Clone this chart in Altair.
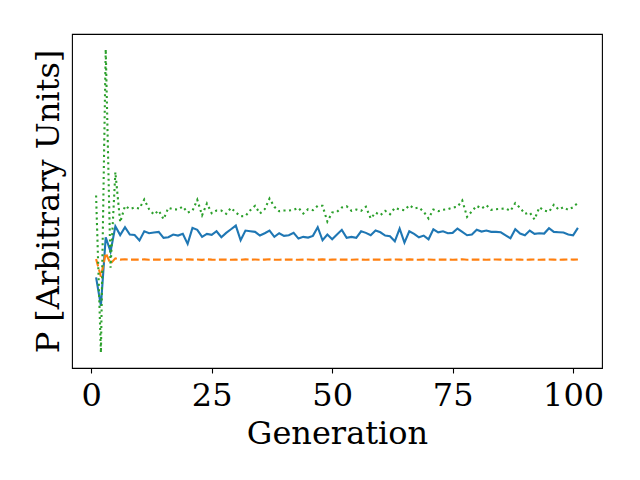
import altair as alt
import pandas as pd

generations = list(range(1, 102))

blue = [91.3, 63, 131.3, 117, 142.3, 133.5, 141.3, 134, 133.5, 128.2,
        137.3, 135.3, 136, 136.7, 130.7, 131.3, 134, 133, 134.7, 124.7,
        140.7, 138.7, 131.7, 134.7, 133.7, 137.3, 131.3, 135.7, 139.3, 143,
        128.3, 138, 137.3, 136.7, 133, 135.3, 138, 131.7, 135.3, 132.7,
        133.3, 135.7, 130, 131.7, 131, 132.7, 141.3, 128.3, 134, 129.3,
        134, 138.7, 130.7, 131.7, 130.7, 137.3, 135.7, 133.3, 138, 136.3,
        133, 132.3, 127.3, 140, 126, 137.3, 134.7, 131.3, 133, 129.3,
        139.3, 136.3, 137.3, 135.3, 135.7, 140, 136.7, 133.3, 134, 138.8,
        137, 138, 136.7, 136.7, 136.3, 133.3, 130.3, 139.3, 135, 133.3,
        138, 134.7, 135.3, 135, 140.3, 136.7, 136.3, 136, 134, 133.3,
        140.7]

orange = [109.7, 92, 115.5, 105, 110.3, 109.0, 109.3, 109.0, 109.1, 109.0,
          109.2, 108.9, 109.0, 109.1, 108.8, 109.0, 109.1, 109.0, 108.9, 109.2,
          109.0, 109.1, 108.8, 109.3, 109.0, 108.9, 109.1, 109.0, 108.9, 109.0,
          108.8, 109.2, 109.0, 109.1, 108.9, 109.0, 109.3, 109.0, 108.9, 109.0,
          109.1, 109.0, 108.8, 109.0, 109.1, 108.9, 109.0, 109.2, 108.8, 109.0,
          109.1, 109.0, 109.0, 108.9, 109.1, 109.0, 108.8, 109.0, 109.1, 109.0,
          108.9, 109.0, 109.1, 109.0, 108.9, 109.2, 109.0, 108.9, 109.0, 109.1,
          108.8, 109.0, 109.1, 109.0, 108.9, 109.0, 109.3, 108.9, 109.0, 109.1,
          109.0, 108.9, 109.0, 109.1, 109.0, 109.0, 108.9, 109.1, 109.0, 108.9,
          109.0, 109.1, 108.8, 109.0, 109.1, 109.0, 108.9, 109.0, 109.1, 109.0,
          109.1]

green = [173, 16, 319, 101, 196.3, 146.3, 162.5, 159.5, 161, 160,
         169, 159.3, 154, 158, 149.3, 160.7, 159.3, 159, 162, 156,
         157.7, 168.7, 153.3, 165, 155.3, 158, 158, 154.7, 160.7, 156,
         152.3, 152.5, 158.3, 162.7, 155, 159.3, 170, 161.7, 157.3, 158,
         158, 158.7, 160.7, 155, 159.3, 158.3, 162.7, 162.7, 147, 156,
         156.7, 161, 162.3, 157.7, 159, 157.7, 161.7, 150, 156, 153.3,
         157.7, 154.3, 160.7, 159, 158.3, 163.3, 160, 161, 156.7, 150,
         159, 157.3, 158.7, 159.3, 161, 161.7, 168, 151.7, 157.3, 162.7,
         160, 163.3, 158.7, 159.3, 159.7, 160, 157.7, 165.3, 160.7, 154.7,
         156, 149, 161.3, 158, 156.7, 163.7, 159, 161.3, 158.7, 161.3,
         165.7]

x_ticks = [0, 25, 50, 75, 100]

df = pd.DataFrame({"Generation": generations, "blue": blue,
                   "orange": orange, "green": green})

all_vals = blue + orange + green
ymin, ymax = min(all_vals), max(all_vals)
ypad = 0.05 * (ymax - ymin)
xmin, xmax = min(generations), max(generations)
xpad = 0.05 * (xmax - xmin)

xs = alt.Scale(domain=[xmin - xpad, xmax + xpad], nice=False, zero=False)
ys = alt.Scale(domain=[ymin - ypad, ymax + ypad], nice=False, zero=False)

font = "DejaVu Serif"
fs = 32
xaxis = alt.Axis(values=x_ticks, title="Generation", labelFont=font,
                 labelFontSize=fs, labelColor="black", tickColor="black",
                 tickSize=5, tickWidth=1.1, domain=False, grid=False,
                 labelBaseline="alphabetic", labelPadding=32,
                 titleFont=font, titleFontSize=fs, titleFontWeight="normal",
                 titleColor="black", titleBaseline="alphabetic", titleY=75)
yaxis = alt.Axis(title="P [Arbitrary Units]", ticks=False, labels=False,
                 domain=False, grid=False, titleFont=font, titleFontSize=fs,
                 titleFontWeight="normal", titleColor="black",
                 titleBaseline="alphabetic", titleX=-14, titleAngle=270)

base = alt.Chart(df)

def line(col, color, dash):
    kw = dict(color=color, strokeWidth=2.1)
    if dash:
        kw["strokeDash"] = dash
    return base.mark_line(**kw).encode(
        x=alt.X("Generation:Q", scale=xs, axis=xaxis),
        y=alt.Y(f"{col}:Q", scale=ys, axis=yaxis),
    )

chart = alt.layer(
    line("blue", "#1f77b4", None),
    line("orange", "#ff7f0e", [7.7, 3.3]),
    line("green", "#2ca02c", [2.08, 3.44]),
).properties(
    width=530, height=334,
    autosize=alt.AutoSizeParams(type="none"),
    padding={"left": 64, "top": 26, "right": 30, "bottom": 90},
    background="white",
).configure_view(stroke="black", strokeWidth=1.1)

chart.save("out.html", embed_options={"renderer": "svg", "actions": False})
